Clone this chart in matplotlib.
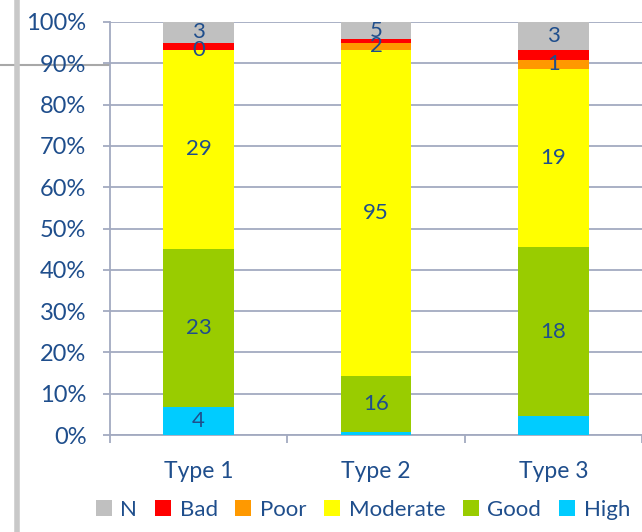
import matplotlib
matplotlib.use("Agg")
import matplotlib.pyplot as plt
from matplotlib.lines import Line2D
from matplotlib.patches import Patch
import numpy as np

categories = ["Type 1", "Type 2", "Type 3"]
series_names = ["High", "Good", "Moderate", "Poor", "Bad", "N"]
high = [4, 1, 2]
good = [23, 16, 18]
moderate = [29, 95, 19]
poor = [0, 2, 1]
bad = [1, 1, 1]
n_vals = [3, 5, 3]
# which data labels are displayed in the reference
label_shown = {
    "High": [True, False, False],
    "Good": [True, True, True],
    "Moderate": [True, True, True],
    "Poor": [True, True, True],
    "Bad": [False, False, False],
    "N": [True, True, True],
}
colors = {
    "High": "#00CCFF",
    "Good": "#99CC00",
    "Moderate": "#FFFF00",
    "Poor": "#FF9900",
    "Bad": "#FF0000",
    "N": "#C0C0C0",
}

values = {"High": high, "Good": good, "Moderate": moderate,
          "Poor": poor, "Bad": bad, "N": n_vals}
totals = np.sum([values[s] for s in series_names], axis=0)

txt_color = "#1F4E8C"
grid_color = "#A3AAC0"
plt.rcParams["font.family"] = ["Lato", "DejaVu Sans"]

fig = plt.figure(figsize=(6.42, 5.32), dpi=100)
ax = fig.add_axes([110 / 642, 1 - 435 / 532, 1 - 110 / 642, (435 - 22) / 532])

x = np.arange(len(categories))
bottom = np.zeros(len(categories))
for s in series_names:
    pct = np.array(values[s]) / totals * 100
    ax.bar(x, pct, width=0.40, bottom=bottom, color=colors[s], zorder=3, linewidth=0)
    for i in range(len(categories)):
        if label_shown[s][i]:
            ax.text(x[i], bottom[i] + pct[i] / 2, str(values[s][i]), ha="center",
                    va="center", color=txt_color, fontsize=16, zorder=4)
    bottom += pct

ax.set_ylim(0, 100)
ax.set_xlim(-0.5, 2.472)
ax.set_yticks(np.arange(0, 101, 10))
ax.set_yticklabels([f"{v}%" for v in range(0, 101, 10)], color=txt_color, fontsize=17)
ax.yaxis.grid(True, color=grid_color, linewidth=1.3, zorder=0)
ax.tick_params(axis="y", length=5, width=1.3, color=grid_color, pad=12)

ax.set_xticks(x)
ax.set_xticklabels(categories, color=txt_color, fontsize=16.5)
ax.set_xticks([-0.5, 0.5, 1.5, 2.5], minor=True)
ax.tick_params(axis="x", which="major", length=0, pad=19)
ax.tick_params(axis="x", which="minor", length=6, width=1.3, color=grid_color)

for side in ["top", "right"]:
    ax.spines[side].set_visible(False)
ax.spines["left"].set_color(grid_color)
ax.spines["left"].set_linewidth(1.3)
ax.spines["bottom"].set_color(grid_color)
ax.spines["bottom"].set_linewidth(1.3)

handles = [Patch(facecolor=colors[s], edgecolor="none") for s in reversed(series_names)]
fig.legend(handles, list(reversed(series_names)), loc="center",
           bbox_to_anchor=(363 / 642, 1 - 510 / 532), ncol=6, frameon=False,
           fontsize=16, labelcolor=txt_color, handlelength=0.7, handleheight=0.7,
           handletextpad=0.4, columnspacing=0.8)

# screenshot artifacts: gray separator lines
fig.add_artist(Line2D([0, 1], [1 - 65 / 532, 1 - 65 / 532], transform=fig.transFigure,
                      color="#A8A8A8", linewidth=1.5, zorder=0))
fig.add_artist(Line2D([17 / 642, 17 / 642], [0, 1], transform=fig.transFigure,
                      color="#C8C8C8", linewidth=4, zorder=0))

fig.savefig("out.png", dpi=100)
